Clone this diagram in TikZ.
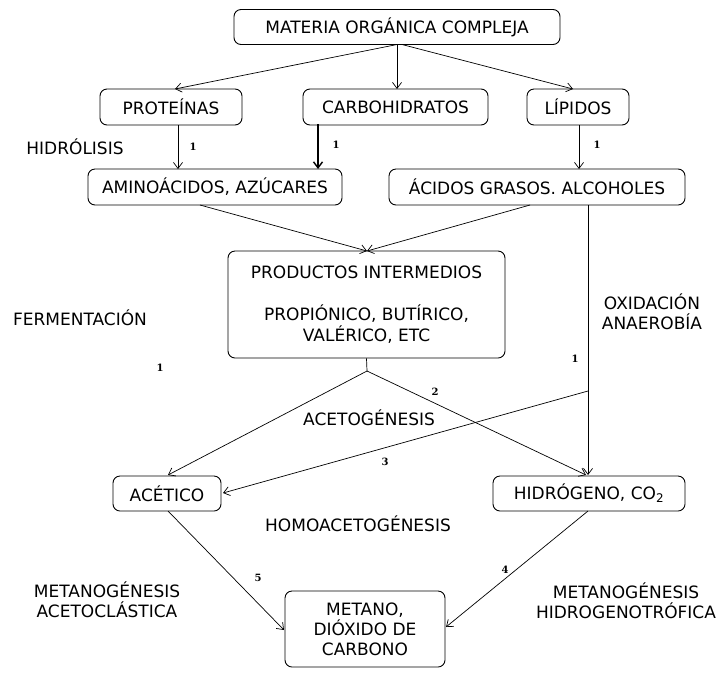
\documentclass[tikz,border=0pt]{standalone}
\usepackage{fontspec}
\setmainfont{DejaVu Sans}
\newfontfamily\numfont{DejaVu Serif}
\usetikzlibrary{arrows.meta}
\begin{document}
\begin{tikzpicture}[x=1pt,y=-1pt,
 every node/.style={font=\fontsize{17}{20}\selectfont},
 box/.style={draw,rounded corners=7pt,line width=0.9pt,align=center,inner sep=0pt},
 lbl/.style={align=center},
 num/.style={font=\numfont\bfseries\fontsize{10}{12}\selectfont},
 arr/.style={-{Straight Barb[length=6pt,width=9pt]},line width=0.7pt},
 ln/.style={line width=0.7pt}]
\useasboundingbox (0,0) rectangle (719,673);
% boxes
\node[box,minimum width=326pt,minimum height=35pt] (mat) at (397,27) {MATERIA ORGÁNICA COMPLEJA};
\node[box,minimum width=142pt,minimum height=36pt] (prot) at (171,107) {PROTEÍNAS};
\node[box,minimum width=185pt,minimum height=36pt] (carb) at (395.5,107) {CARBOHIDRATOS};
\node[box,minimum width=102pt,minimum height=36pt] (lip) at (578,107) {LÍPIDOS};
\node[box,minimum width=254pt,minimum height=36pt] (amino) at (215,187) {AMINOÁCIDOS, AZÚCARES};
\node[box,minimum width=296pt,minimum height=36pt] (acid) at (537,187) {ÁCIDOS GRASOS. ALCOHOLES};
\node[box,minimum width=277pt,minimum height=107pt] (prod) at (366.5,304.5) {PRODUCTOS INTERMEDIOS\\[22pt]PROPIÓNICO, BUTÍRICO,\\[1pt]VALÉRICO, ETC};
\node[box,minimum width=108pt,minimum height=35pt] (acet) at (167,493.5) {ACÉTICO};
\node[box,minimum width=192pt,minimum height=35pt] (hidr) at (589,493.5) {HIDRÓGENO, CO\textsubscript{2}};
\node[box,minimum width=160pt,minimum height=76pt] (met) at (365,629) {METANO,\\DIÓXIDO DE\\CARBONO};
% coordinates
\coordinate (m1) at (397,44.5);
\coordinate (m2) at (402,44.5);
\coordinate (pn) at (175,89);
\coordinate (cn) at (397,89);
\coordinate (ln) at (573,89);
\coordinate (ps) at (178,125);
\coordinate (pa) at (178,169);
\coordinate (cs) at (318,124);
\coordinate (ca) at (318,169);
\coordinate (ls) at (579,125);
\coordinate (la) at (579,169);
\coordinate (as) at (200,205);
\coordinate (bs) at (530,205);
\coordinate (pt) at (367,251);
\coordinate (vs) at (588,205);
\coordinate (vb) at (588,391);
\coordinate (hn) at (588,475);
\coordinate (split) at (367,371);
\coordinate (an) at (168,475);
\coordinate (hn2) at (586,475);
\coordinate (ae) at (223,493);
\coordinate (ab) at (168,511);
\coordinate (mw) at (284,630);
\coordinate (hb) at (588,511);
\coordinate (me) at (446,627);
% connectors
\draw[arr] (m1) -- (pn);
\draw[arr] (m1) -- (cn);
\draw[arr] (m2) -- (ln);
\draw[arr] (ps) -- (pa);
\draw[arr,line width=1.4pt] (cs) -- (ca);
\draw[arr] (ls) -- (la);
\draw[arr] (as) -- (pt);
\draw[arr] (bs) -- (pt);
\draw[arr] (vs) -- (hn);
\draw[ln] (prod.south) -- (split);
\draw[arr] (split) -- (an);
\draw[arr] (split) -- (hn2);
\draw[arr] (vb) -- (ae);
\draw[arr] (ab) -- (mw);
\draw[arr] (hb) -- (me);
% labels
\node[lbl] (l1) at (75,147) {HIDRÓLISIS};
\node[num] (n1) at (193,147) {1};
\node[num] (n2) at (336,145) {1};
\node[num] (n3) at (597,145) {1};
\node[lbl] (l2) at (80,318) {FERMENTACIÓN};
\node[num] (n4) at (160,368) {1};
\node[lbl] (l3) at (652,312) {OXIDACIÓN\\ANAEROBÍA};
\node[num] (n5) at (575,359) {1};
\node[num] (n6) at (435,392) {2};
\node[lbl] (l4) at (369,418) {ACETOGÉNESIS};
\node[num] (n7) at (385,462) {3};
\node[lbl] (l5) at (358,524) {HOMOACETOGÉNESIS};
\node[num] (n8) at (258,578) {5};
\node[num] (n9) at (505,570) {4};
\node[lbl] (l6) at (107,600) {METANOGÉNESIS\\ACETOCLÁSTICA};
\node[lbl] (l7) at (626,601) {METANOGÉNESIS\\HIDROGENOTRÓFICA};
\end{tikzpicture}
\end{document}
